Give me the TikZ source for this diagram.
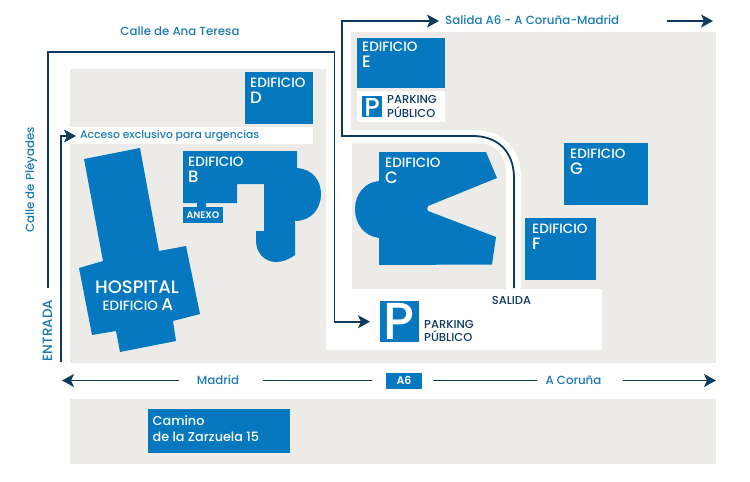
\documentclass[tikz,border=0pt]{standalone}
\usepackage{fontspec}
\setmainfont{Poppins Medium}[BoldFont={Poppins SemiBold}]
\usetikzlibrary{arrows.meta,positioning}
\tikzset{
  blockfill/.style={fill=BlockGray,draw=none},
  building/.style={fill=BuildBlue,draw=none},
  bldbox/.style={building,anchor=north west,inner sep=0pt},
  bldlabel/.style={anchor=north west,inner sep=0pt,align=left,text=white,font=\fontsize{13.5}{16}\selectfont},
  streetlabel/.style={text=StreetBlue,inner sep=0pt,font=\fontsize{11.8}{13}\selectfont},
  parklabel/.style={anchor=west,inner sep=0pt,align=left,text=RoadNavy,font=\fontsize{11.5}{13.5}\selectfont},
  road/.style={line width=1.8pt,RoadNavy,-{Stealth[length=12pt,width=13pt,inset=3pt]}},
  roadplain/.style={line width=1.8pt,RoadNavy},
}
\begin{document}
\begin{tikzpicture}[x=1pt,y=-1pt]
  %--- Theme colors ---
  \definecolor{BlockGray}{HTML}{ECEBE7}   % city blocks
  \definecolor{BuildBlue}{HTML}{0578BF}   % buildings
  \definecolor{StreetBlue}{HTML}{1B7AB3}  % street names
  \definecolor{RoadNavy}{HTML}{0F3A5F}    % road lines
  \useasboundingbox (0,0) rectangle (750,482);

  %--- City blocks ---
  \fill[blockfill] (70,69) rectangle (326,362.5);
  \fill[blockfill] (351,32) rectangle (716,362.5);
  \fill[blockfill] (326,349) rectangle (351,362.5);
  \fill[blockfill] (70,399) rectangle (716,464);

  %--- White gaps ---
  \fill[white] (63,127) rectangle (313,144);
  \fill[white] (326,130) -- (473,130) .. controls (505,130) and (521,150) .. (521,178)
    -- (521,289) -- (506,289) -- (506,172) .. controls (506,155) and (495,143) .. (477,143)
    -- (352,143) -- (352,289) -- (326,289) -- cycle;
  \fill[white] (326,289) rectangle (602,349.5);
  \fill[white] (357,91) rectangle (445,122);

  %--- Square buildings ---
  \node[bldbox,minimum width=68pt,minimum height=52pt] (edifD) at (245,72) {};
  \node[bldbox,minimum width=88pt,minimum height=50pt] (edifE) at (357,37.5) {};
  \node[bldbox,minimum width=84pt,minimum height=62pt] (edifG) at (564,143) {};
  \node[bldbox,minimum width=71pt,minimum height=62pt] (edifF) at (525,218) {};
  \node[bldbox,minimum width=142pt,minimum height=44pt] (camino) at (148,409) {};

  %--- Hospital ---
  \fill[building] (84,159) -- (140,148) -- (159,251) -- (186,246) -- (200,314) -- (173,321)
    -- (176,341) -- (120,352) -- (116,331) -- (92,335) -- (79,268) -- (103,261) -- cycle;

  %--- Building B with annex ---
  \fill[building] (183,151) -- (297,151) -- (297,168) .. controls (312,169) and (321,180) .. (321,194)
    .. controls (321,209) and (311,221) .. (295,221) -- (295,255) .. controls (288,260) and (282,262) .. (276,262)
    .. controls (264,262) and (256,252) .. (256,241) -- (256,231) -- (264,231) -- (264,184) -- (237,184)
    -- (237,203) -- (206,203) -- (206,207) -- (197,207) -- (197,203) -- (183,203) -- cycle;
  \node[bldbox,minimum width=40pt,minimum height=16pt] (anexo) at (183,207) {};

  %--- Building C ---
  \fill[building] (379,152) -- (486,152) -- (497,178) -- (428,206) .. controls (427,208) and (427,210) .. (428,211)
    -- (496,237) -- (492,264.5) -- (379,265) -- (379,238) .. controls (364,236) and (355,224) .. (355,209)
    .. controls (355,194) and (365,182) .. (379,181) -- cycle;

  %--- Building names ---
  \node[bldlabel] (labD) at (250,77.5) {EDIFICIO\\{\fontsize{16.5}{16}\selectfont D}};
  \node[bldlabel] (labE) at (362,42) {EDIFICIO\\{\fontsize{16.5}{16}\selectfont E}};
  \node[bldlabel] (labB) at (188,156.5) {EDIFICIO\\{\fontsize{16.5}{16}\selectfont B}};
  \node[bldlabel] (labC) at (385,157.5) {EDIFICIO\\{\fontsize{16.5}{16}\selectfont C}};
  \node[bldlabel] (labG) at (570,148.5) {EDIFICIO\\{\fontsize{16.5}{16}\selectfont G}};
  \node[bldlabel] (labF) at (532,223.5) {EDIFICIO\\{\fontsize{16.5}{16}\selectfont F}};
  \node[text=white,inner sep=0pt,text height=12.6pt,text depth=0pt,font=\fontsize{18}{19}\selectfont] (hospital) at (137,287) {HOSPITAL};
  \node[text=white,inner sep=0pt,text height=12pt,text depth=0pt,font=\fontsize{13.5}{15}\selectfont] (edifA) at (138,304) {EDIFICIO {\fontsize{17}{15}\selectfont A}};
  \node[text=white,inner sep=0pt,font=\bfseries\fontsize{9.5}{11}\selectfont] (anexoLab) at (203,215) {ANEXO};
  \node[anchor=west,text=white,inner sep=0pt,align=left,font=\fontsize{12.8}{16}\selectfont] (caminoLab) at (152.5,429) {Camino\\de la Zarzuela 15};

  %--- Parking signs ---
  \node[bldbox,minimum width=39pt,minimum height=41pt] (parkBig) at (380,301) {};
  \node[text=white,inner sep=0pt,font=\fontsize{52}{52}\selectfont] (parkBigP) at (399,321.5) {P};
  \node[parklabel] (parkBigLab) at (424,331) {PARKING\\PÚBLICO};
  \node[bldbox,minimum width=20pt,minimum height=21pt] (parkSmall) at (362,96) {};
  \node[text=white,inner sep=0pt,font=\fontsize{26}{26}\selectfont] (parkSmallP) at (372,107) {P};
  \node[parklabel] (parkSmallLab) at (387,106.5) {PARKING\\PÚBLICO};

  %--- Street names ---
  \node[streetlabel] (anaTeresa) at (180,31) {Calle de Ana Teresa};
  \node[streetlabel,rotate=90] (pleyades) at (31,180) {Calle de Pléyades};
  \node[streetlabel,rotate=90,font=\fontsize{13.5}{15}\selectfont] (entrada) at (47.5,330.5) {ENTRADA};
  \node[streetlabel,anchor=west,font=\fontsize{10.8}{13}\selectfont] (acceso) at (80,136) {Acceso exclusivo para urgencias};
  \node[streetlabel,anchor=west] (salidaA6) at (445,20.5) {Salida A6 - A Coruña-Madrid};
  \node[streetlabel] (madrid) at (218,380.5) {Madrid};
  \node[streetlabel] (coruna) at (573.5,380.5) {A Coruña};
  \node[building,text=white,inner sep=0pt,minimum width=36pt,minimum height=16pt,font=\bfseries\fontsize{11}{12}\selectfont] (a6) at (404,380.5) {A6};
  \node[text=RoadNavy,inner sep=0pt,minimum height=24pt,font=\fontsize{11.5}{12}\selectfont] (salida) at (511.5,300) {SALIDA};

  %--- Road coordinates ---
  \coordinate (entryStart) at (48,288);
  \coordinate (entryCornerA) at (48,52);
  \coordinate (entryCornerB) at (334.5,52);
  \coordinate (urgStart) at (61,362);
  \coordinate (urgCorner) at (61,136);
  \coordinate (exitStart) at (514,288);
  \coordinate (exitCorner) at (342,136);
  \coordinate (exitTop) at (342,21);
  \coordinate (exitFarA) at (667,21);
  \coordinate (exitFarB) at (713,21);
  \coordinate (leftEnd) at (62,380.5);
  \coordinate (rightEnd) at (716,380.5);

  %--- Roads ---
  \draw[road,shorten >=10pt] (entryStart) -- (entryCornerA) -- (entryCornerB) |- (parkBig.west);
  \draw[road,shorten >=4pt] (urgStart) -- (urgCorner) -- (acceso.west);
  \draw[road,shorten >=6pt] (exitStart) -- (514,178) .. controls (514,152) and (498,136) .. (473,136)
    -- (exitCorner) -- (exitTop) -- (salidaA6.west |- exitTop);
  \draw[road] (exitFarA) -- (exitFarB);
  \draw[road,shorten <=18pt] (madrid.west) -- (leftEnd);
  \draw[roadplain,shorten <=24pt,shorten >=14pt] (madrid.east) -- (a6.west);
  \draw[roadplain,shorten <=11pt,shorten >=8pt] (a6.east) -- (coruna.west);
  \draw[road,shorten <=21pt] (coruna.east) -- (rightEnd);
\end{tikzpicture}
\end{document}
